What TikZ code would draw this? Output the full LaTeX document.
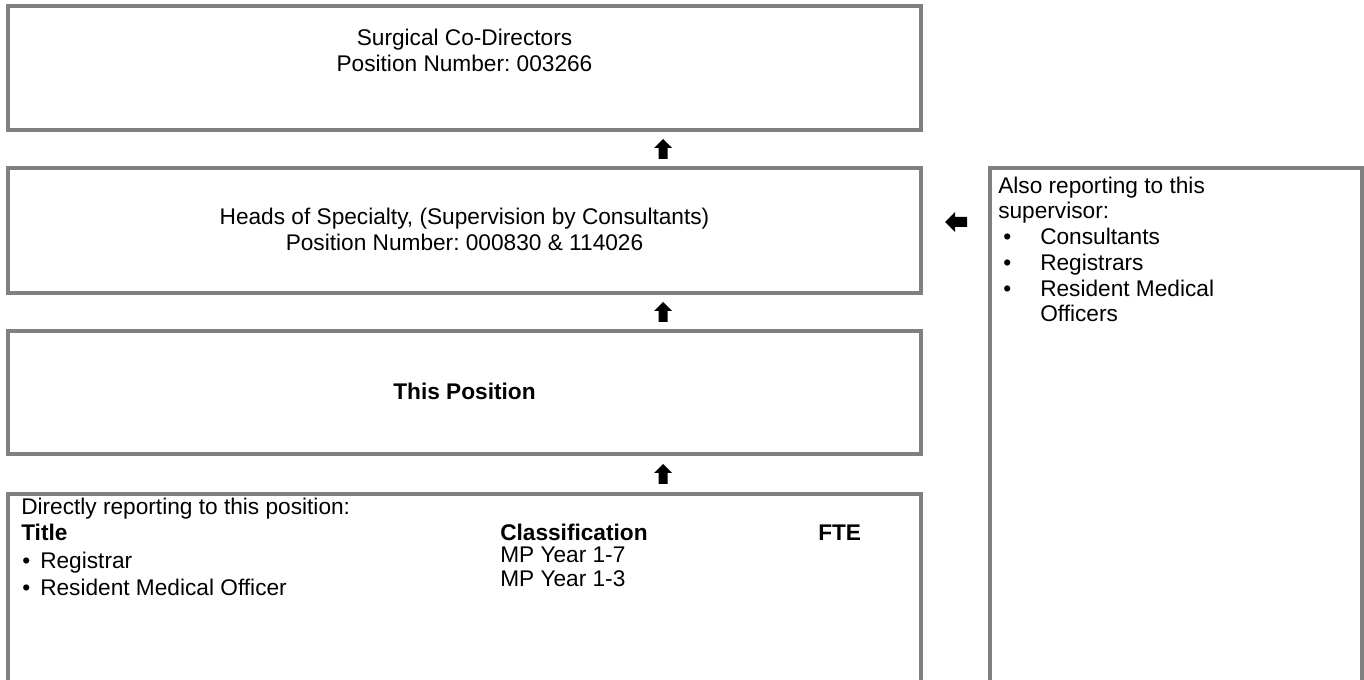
\documentclass[tikz,border=0pt]{standalone}
\usepackage{fontspec}
\setmainfont{Liberation Sans}
\frenchspacing
\begin{document}
\begin{tikzpicture}[x=0.75pt,y=-0.75pt,
  box/.style={draw=boxgray,line width=3pt,inner sep=0pt,outer sep=0pt,fill=white},
  txt/.style={inner sep=0pt,anchor=base west,font=\fontsize{17pt}{20pt}\selectfont},
  btxt/.style={txt,font=\fontsize{17pt}{20pt}\selectfont\bfseries},
  ctxt/.style={inner sep=0pt,anchor=base,font=\fontsize{17pt}{20pt}\selectfont},
  arr/.style={fill=black}]
\definecolor{boxgray}{RGB}{128,128,128}
\clip (0,0) rectangle (1364,680);
\fill[white] (0,0) rectangle (1364,680);
% boxes
\node[box,minimum width=684.75pt,minimum height=93pt] (b1) at (464.5,68) {};
\node[box,minimum width=684.75pt,minimum height=93.75pt] (b2) at (464.5,230.5) {};
\node[box,minimum width=684.75pt,minimum height=92.25pt] (b3) at (464.5,392.5) {};
\node[box,minimum width=684.75pt,minimum height=169.5pt] (b4) at (464.5,607) {};
\node[box,minimum width=279pt,minimum height=414pt] (b5) at (1176,444) {};
% box 1 text
\node[ctxt] (t1a) at (464.5,46) {Surgical Co-Directors};
\node[ctxt] (t1b) at (464.5,72) {Position Number: 003266};
% box 2 text
\node[ctxt] (t2a) at (464.5,225) {Heads of Specialty, (Supervision by Consultants)};
\node[ctxt] (t2b) at (464.5,251) {Position Number: 000830 \& 114026};
% box 3 text
\node[ctxt,font=\fontsize{17pt}{20pt}\selectfont\bfseries] (t3) at (464.5,400) {This Position};
% box 4 text
\node[txt] (t4a) at (21,515) {Directly reporting to this position:};
\node[btxt] (t4t) at (21,541) {Title};
\node[btxt] (t4c) at (500,541) {Classification};
\node[btxt] (t4f) at (818,541) {FTE};
\node[txt] (t4b1) at (22,569) {•};
\node[txt] (t4r1) at (40,569) {Registrar};
\node[txt] (t4b2) at (22,595) {•};
\node[txt] (t4r2) at (40,595) {Resident Medical Officer};
\node[txt] (t4m1) at (500,563) {MP Year 1-7};
\node[txt] (t4m2) at (500,587) {MP Year 1-3};
% right box text
\node[txt] (t5a) at (998,194) {Also reporting to this};
\node[txt] (t5b) at (998,219) {supervisor:};
\node[txt] (t5c1) at (1003,245) {•};
\node[txt] (t5c) at (1040,245) {Consultants};
\node[txt] (t5d1) at (1003,271) {•};
\node[txt] (t5d) at (1040,271) {Registrars};
\node[txt] (t5e1) at (1003,297) {•};
\node[txt] (t5e) at (1040,297) {Resident Medical};
\node[txt] (t5f) at (1040,322) {Officers};
% arrows
\coordinate (a1) at (663,149);
\coordinate (a2) at (663,312);
\coordinate (a3) at (663,474);
\coordinate (a4) at (956,222);
\foreach \c in {a1,a2,a3}{
  \fill[arr] (\c) ++(0,-10) -- ++(9,9) -- ++(-4.5,0) -- ++(0,11) -- ++(-9,0) -- ++(0,-11) -- ++(-4.5,0) -- cycle;
}
\fill[arr] (a4) ++(-11,0) -- ++(10,-10) -- ++(0,5) -- ++(12,0) -- ++(0,10) -- ++(-12,0) -- ++(0,5) -- cycle;
\end{tikzpicture}
\end{document}
